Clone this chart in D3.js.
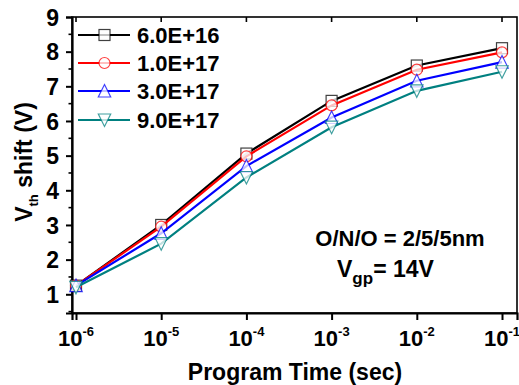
<!DOCTYPE html>
<html><head><meta charset="utf-8">
<script src="https://cdn.jsdelivr.net/npm/d3@7"></script>
<style>
html,body{margin:0;padding:0;background:#fff;}
text{font-family:"Liberation Sans",Arial,sans-serif;font-weight:bold;fill:#000;}
</style></head>
<body><svg id="c" width="519" height="385"></svg>
<script>
const times = [1e-6, 1e-5, 1e-4, 1e-3, 1e-2, 1e-1];
const seriesNames = ["6.0E+16", "1.0E+17", "3.0E+17", "9.0E+17"];
const s1 = [1.25, 3.00, 5.06, 6.58, 7.60, 8.10];
const s2 = [1.25, 2.95, 4.98, 6.45, 7.48, 7.98];
const s3 = [1.25, 2.76, 4.70, 6.10, 7.16, 7.70];
const s4 = [1.20, 2.46, 4.37, 5.82, 6.87, 7.42];
const yTicks = [1, 2, 3, 4, 5, 6, 7, 8, 9];
const xExponents = [-6, -5, -4, -3, -2, -1];
const colors = ["#000000", "#ff0000", "#0000ff", "#008080"];
const symbols = ["square", "circle", "triangleUp", "triangleDown"];
const allSeries = [s1, s2, s3, s4];

const svg = d3.select("#c");
const L = 72, R = 517, T = 17, B = 313;
const x = d3.scaleLog().domain([Math.pow(10, -6.047), Math.pow(10, -0.824)]).range([L, R]);
const y = d3.scaleLinear().domain([0.46, 9]).range([B, T]);

// frame
svg.append("rect").attr("x", L).attr("y", T).attr("width", R - L).attr("height", B - T)
  .attr("fill", "none").attr("stroke", "#000").attr("stroke-width", 1.6);

// y axis
const yAxis = d3.axisLeft(y).tickValues(yTicks).tickSize(6).tickFormat(d => d);
const gy = svg.append("g").attr("transform", `translate(${L},0)`).call(yAxis);
gy.select(".domain").attr("stroke-width", 2.2);
gy.selectAll(".tick line").attr("stroke-width", 2);
gy.selectAll(".tick text").attr("font-size", 23).attr("x", -13).attr("dy", "0.36em")
  .style("font-family", "Liberation Sans, Arial, sans-serif").style("font-weight", "bold");
const yMinor = d3.range(0.5, 9, 1);
svg.append("g").selectAll("line").data(yMinor).join("line")
  .attr("x1", L - 3.5).attr("x2", L).attr("y1", d => y(d)).attr("y2", d => y(d))
  .attr("stroke", "#000").attr("stroke-width", 1.6);

// x axis
const xAxis = d3.axisBottom(x).tickValues(times).tickSize(7).tickFormat("");
const gx = svg.append("g").attr("transform", `translate(0,${B})`).call(xAxis);
gx.select(".domain").attr("stroke-width", 2.2);
gx.selectAll(".tick line").attr("stroke-width", 2);
// top mirror ticks
svg.append("g").selectAll("line").data(times).join("line")
  .attr("x1", d => x(d)).attr("x2", d => x(d)).attr("y1", T).attr("y2", T + 5)
  .attr("stroke", "#000").attr("stroke-width", 1.6);
// x tick labels
const xl = svg.append("g").selectAll("text").data(xExponents).join("text")
  .attr("x", (d, i) => x(times[i])).attr("y", 346).attr("text-anchor", "middle")
  .attr("font-size", 22);
xl.append("tspan").text("10");
xl.append("tspan").attr("dy", -10).attr("font-size", 13).text(d => d);

// axis titles
svg.append("text").attr("x", 295).attr("y", 380).attr("text-anchor", "middle")
  .attr("font-size", 23).text("Program Time (sec)");
const yt = svg.append("text").attr("transform", "translate(32,162) rotate(-90)")
  .attr("text-anchor", "middle").attr("font-size", 23);
yt.append("tspan").text("V");
yt.append("tspan").attr("dy", 6).attr("font-size", 13).text("th");
yt.append("tspan").attr("dy", -6).text(" shift (V)");

// symbol drawing
function drawSymbol(g, type, cx, cy, color) {
  const s = 5.5;
  let el;
  if (type === "square") {
    el = g.append("rect").attr("x", cx - s).attr("y", cy - s).attr("width", 2 * s).attr("height", 2 * s);
  } else if (type === "circle") {
    el = g.append("circle").attr("cx", cx).attr("cy", cy).attr("r", s);
  } else if (type === "triangleUp") {
    el = g.append("path").attr("d", `M${cx},${cy - 6.5}L${cx + 6.2},${cy + 6}L${cx - 6.2},${cy + 6}Z`);
  } else {
    el = g.append("path").attr("d", `M${cx},${cy + 6.5}L${cx + 6.2},${cy - 6}L${cx - 6.2},${cy - 6}Z`);
  }
  el.attr("fill", "#fff").attr("fill-opacity", 0.75).attr("stroke", color).attr("stroke-width", 1.2)
    .attr("stroke-opacity", 0.75);
}

const line = d3.line().x(d => x(d[0])).y(d => y(d[1]));
allSeries.forEach((vals, k) => {
  const g = svg.append("g");
  const pts = times.map((t, i) => [t, vals[i]]);
  g.append("path").attr("d", line(pts)).attr("fill", "none").attr("stroke", colors[k]).attr("stroke-width", 2.2);
  pts.forEach(p => drawSymbol(g, symbols[k], x(p[0]), y(p[1]), colors[k]));
});

// legend
const legY = [35, 63, 91, 120];
seriesNames.forEach((name, k) => {
  const g = svg.append("g");
  g.append("line").attr("x1", 78).attr("x2", 130).attr("y1", legY[k]).attr("y2", legY[k])
    .attr("stroke", colors[k]).attr("stroke-width", 2.2);
  drawSymbol(g, symbols[k], 104.5, legY[k], colors[k]);
  g.append("text").attr("x", 137).attr("y", legY[k] + 8).attr("font-size", 22).text(name);
});

// annotations
svg.append("text").attr("x", 400).attr("y", 246).attr("text-anchor", "middle")
  .attr("font-size", 22).text("O/N/O = 2/5/5nm");
const a2 = svg.append("text").attr("x", 337).attr("y", 277).attr("font-size", 23);
a2.append("tspan").text("V");
a2.append("tspan").attr("dy", 7).attr("font-size", 17).text("gp");
a2.append("tspan").attr("dy", -7).text("= 14V");
</script></body></html>
